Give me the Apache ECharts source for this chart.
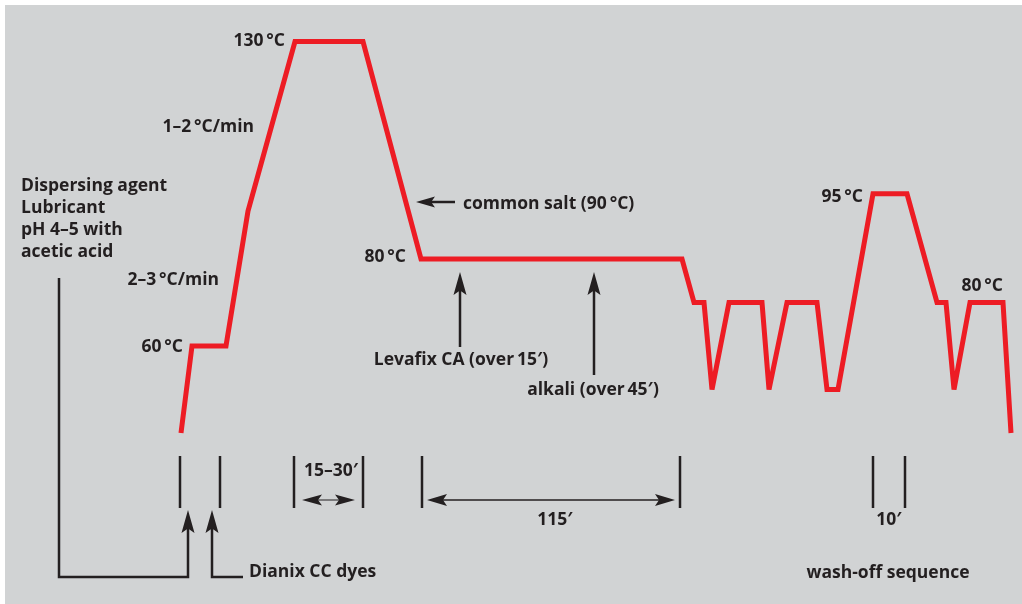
<!DOCTYPE html>
<html>
<head>
<meta charset="utf-8">
<script src="https://cdn.jsdelivr.net/npm/echarts@6/dist/echarts.min.js"></script>
<style>
html,body{margin:0;padding:0;background:#fff;}
#chart{width:1022px;height:604px;background:linear-gradient(#d1d3d4,#d1d3d4) 5px 5px / 1017px 599px no-repeat,#fff;}
</style>
</head>
<body>
<div id="chart"></div>
<script>
// Process profile: schematic position along time axis and bath temperature (°C)
var positions = [181,192,226,248,295,363,421,682,694,704,712,729,762,769,787,817,827,838,873,907,937,946,954,970,1003,1011];
var temperatures = [40,60,60,91,130,130,80,80,70,70,50,70,70,50,70,70,50,50,95,95,70,70,50,70,70,40];

var INK = '#231f20';
var FONT = '"Open Sans", "Noto Sans", sans-serif';
var FS = 17.5;

var chart = echarts.init(document.getElementById('chart'), null, {renderer:'canvas'});

function txt(s, x, y, align){
  return {type:'text', z:10, style:{text:s, x:x, y:y, align:align||'left', verticalAlign:'middle',
    fill:INK, font:'bold '+FS+'px '+FONT}};
}
function pl(points, w){
  return {type:'polyline', z:10, shape:{points:points}, style:{stroke:INK, lineWidth:w||2.5, fill:null}};
}
function head(tx, ty, dir, len, hw){
  var pts;
  if(dir==='up') pts=[[tx,ty],[tx+hw,ty+len],[tx,ty+len*0.8],[tx-hw,ty+len]];
  else if(dir==='left') pts=[[tx,ty],[tx+len,ty-hw],[tx+len*0.8,ty],[tx+len,ty+hw]];
  else pts=[[tx,ty],[tx-len,ty-hw],[tx-len*0.8,ty],[tx-len,ty+hw]];
  return {type:'polygon', z:10, shape:{points:pts}, style:{fill:INK}};
}
function tick(x){ return pl([[x,456],[x,508]],2.5); }

var g = [];
g.push(txt('130\u2009°C',285,41,'right'));
g.push(txt('1–2\u2009°C/min',254,127,'right'));
g.push(txt('2–3\u2009°C/min',219,280,'right'));
g.push(txt('60\u2009°C',183,347,'right'));
g.push(txt('80\u2009°C',406,257,'right'));
g.push(txt('95\u2009°C',863,197,'right'));
g.push(txt('80\u2009°C',1003,286,'right'));
['Dispersing agent','Lubricant','pH 4–5 with','acetic acid'].forEach(function(s,i){ g.push(txt(s,21,186+22*i,'left')); });
g.push(txt('common salt (90\u2009°C)',463,204,'left'));
g.push(txt('Levafix CA (over\u200915′)',461,360,'center'));
g.push(txt('alkali (over\u200945′)',593,390,'center'));
g.push(txt('15–30′',331,471,'center'));
g.push(txt('115′',555,520,'center'));
g.push(txt('10′',889,520,'center'));
g.push(txt('Dianix CC dyes',249,572,'left'));
g.push(txt('wash-off sequence',888,573,'center'));
g.push(pl([[455,202],[430,202]],2.5)); g.push(head(416,202,'left',19,5.5));
g.push(pl([[460,347],[460,290]],2.5)); g.push(head(460,272,'up',23,6.5));
g.push(pl([[594,375],[594,290]],2.5)); g.push(head(594,272,'up',23,6.5));
g.push(pl([[59,278],[59,577],[188,577],[188,528]],2.5)); g.push(head(188,510,'up',23,6.5));
g.push(pl([[243,577],[212,577],[212,528]],2.5)); g.push(head(212,510,'up',23,6.5));
[180,220,294,363,422,680,873,905].forEach(function(x){ g.push(tick(x)); });
g.push(pl([[315,500],[342,500]],1)); g.push(head(302,500,'left',20,5.5)); g.push(head(355,500,'right',20,5.5));
g.push(pl([[440,500],[662,500]],1.5)); g.push(head(427,500,'left',20,6)); g.push(head(675,500,'right',20,6));

chart.setOption({
  animation:false,
  backgroundColor:'transparent',
  grid:{left:0,right:0,top:41.5,bottom:40.5,containLabel:false},
  xAxis:{type:'value',min:0,max:1022,show:false},
  yAxis:{type:'value',min:10,max:130,show:false},
  series:[{
    type:'line',
    data:positions.map(function(x,i){return [x,temperatures[i]];}),
    showSymbol:false,
    symbol:'none',
    clip:false,
    lineStyle:{color:'#ed1c24',width:5,join:'miter',miterLimit:2,cap:'butt'}
  }],
  graphic:g
});
</script>
</body>
</html>
